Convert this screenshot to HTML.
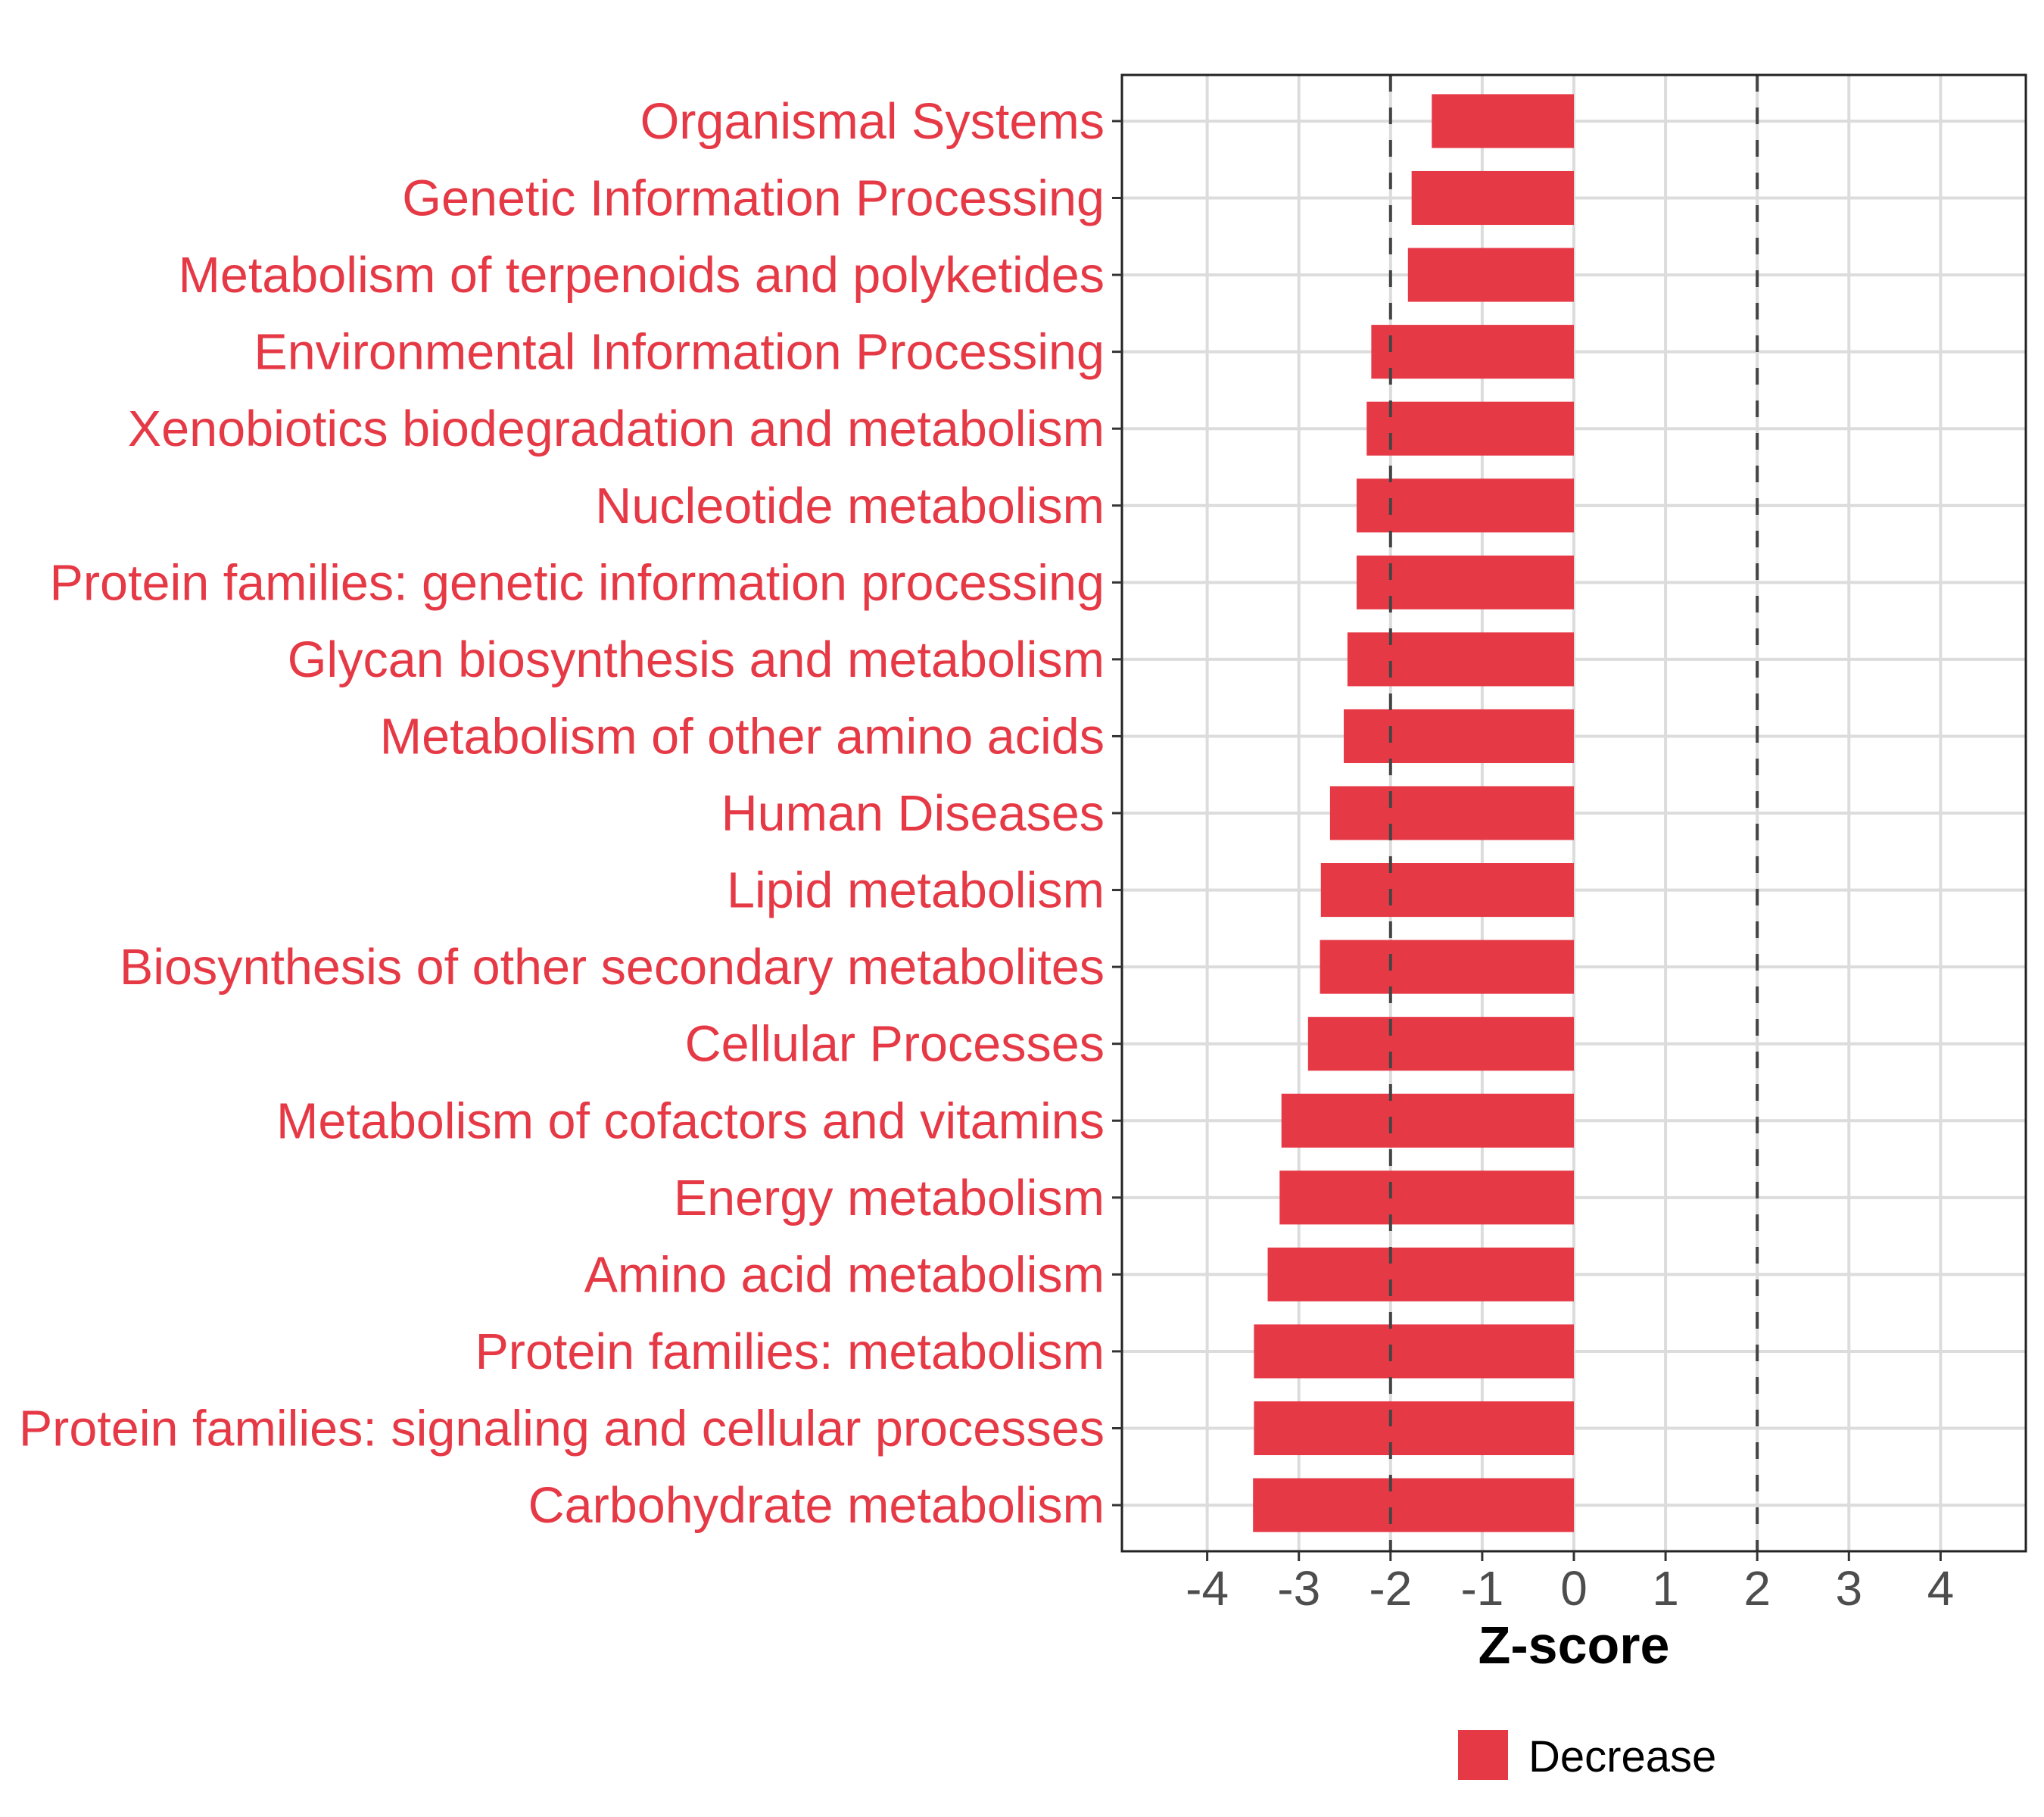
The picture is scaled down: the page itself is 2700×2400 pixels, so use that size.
<!DOCTYPE html>
<html><head><meta charset="utf-8"><style>
html,body{margin:0;padding:0;background:#fff;}
svg{display:block;font-family:"Liberation Sans",sans-serif;}
</style></head><body>
<svg id="chart" width="2700" height="2400" viewBox="0 0 2700 2400">
<g id="grid"></g>
<g id="bars"></g>
<g id="refs"></g>
<rect x="1482" y="99" width="1194" height="1950" fill="none" stroke="#222" stroke-width="3"/>
<g id="ylabels"></g>
<g id="xticks"></g>
<text x="2079" y="2197" text-anchor="middle" font-size="70" font-weight="bold" fill="#000">Z-score</text>
<rect x="1926" y="2285" width="66" height="66" fill="#e63946"/>
<text x="2019" y="2340" font-size="58" fill="#000">Decrease</text>
</svg>
<script>
const categories = ["Organismal Systems","Genetic Information Processing","Metabolism of terpenoids and polyketides","Environmental Information Processing","Xenobiotics biodegradation and metabolism","Nucleotide metabolism","Protein families: genetic information processing","Glycan biosynthesis and metabolism","Metabolism of other amino acids","Human Diseases","Lipid metabolism","Biosynthesis of other secondary metabolites","Cellular Processes","Metabolism of cofactors and vitamins","Energy metabolism","Amino acid metabolism","Protein families: metabolism","Protein families: signaling and cellular processes","Carbohydrate metabolism"];
const zscores = [-1.55,-1.77,-1.81,-2.21,-2.26,-2.37,-2.37,-2.47,-2.51,-2.66,-2.76,-2.77,-2.90,-3.19,-3.21,-3.34,-3.49,-3.49,-3.50];
const xTicks = [-4,-3,-2,-1,0,1,2,3,4];
const xTickLabels = ["-4","-3","-2","-1","0","1","2","3","4"];
const refLines = [-2,2];

const NS="http://www.w3.org/2000/svg";
const L=1482,R=2676,T=99,B=2049;
const xMin=-4.93,xMax=4.93;
const x=v=>L+(v-xMin)/(xMax-xMin)*(R-L);
const n=categories.length;
const step=(B-T)/(n+0.2);
const y=i=>T+step*(0.6+i);
function mk(tag,attrs,parent){const e=document.createElementNS(NS,tag);for(const k in attrs)e.setAttribute(k,attrs[k]);parent.appendChild(e);return e;}
const grid=document.getElementById('grid'),bars=document.getElementById('bars'),refs=document.getElementById('refs'),yl=document.getElementById('ylabels'),xt=document.getElementById('xticks');
xTicks.forEach((t,i)=>{
  const g=mk('line',{x1:x(t),x2:x(t),y1:T,y2:B,stroke:'#dcdcdc','stroke-width':4},grid);
  
  
  const tk=mk('line',{x1:x(t),x2:x(t),y1:B,y2:B+13,stroke:'#333','stroke-width':3},xt);
  
  
  const tl=mk('text',{x:x(t),y:2120,'text-anchor':'middle','font-size':64,fill:'#4d4d4d'},xt);
  tl.textContent=xTickLabels[i];
  
  
});
categories.forEach((c,i)=>{
  const g=mk('line',{x1:L,x2:R,y1:y(i),y2:y(i),stroke:'#dcdcdc','stroke-width':4},grid);
  
  
  const v=zscores[i];
  const bh=step*0.7;
  const b=mk('rect',{x:Math.min(x(v),x(0)),y:y(i)-bh/2,width:Math.abs(x(v)-x(0)),height:bh,fill:'#e63946'},bars);
  
  
  const tk=mk('line',{x1:L-13,x2:L,y1:y(i),y2:y(i),stroke:'#333','stroke-width':3},yl);
  
  
  const t=mk('text',{x:1459,y:y(i)+23,'text-anchor':'end','font-size':66.5,fill:'#e63946'},yl);
  t.textContent=c;
  
  
});
refLines.forEach(v=>{
  const l=mk('line',{x1:x(v),x2:x(v),y1:T,y2:B,stroke:'#444','stroke-width':4,'stroke-dasharray':'22 21'},refs);
  
  
});
</script>
</body></html>
